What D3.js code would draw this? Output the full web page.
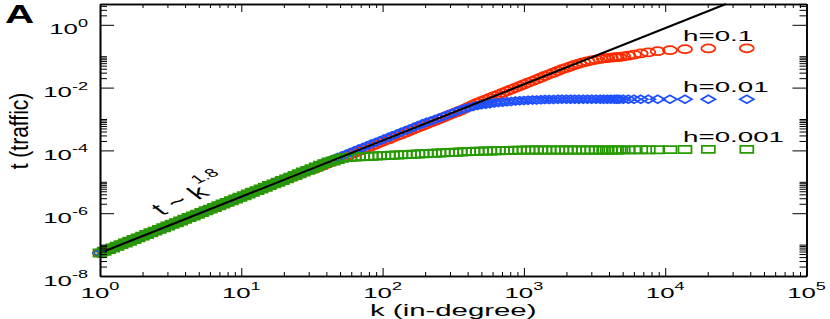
<!DOCTYPE html>
<html>
<head>
<meta charset="utf-8">
<script src="https://cdn.jsdelivr.net/npm/d3@7"></script>
<style>
  body { margin: 0; background: #fff; }
  text { font-family: "Liberation Sans", Arial, Helvetica, sans-serif; fill: #000; }
</style>
</head>
<body>
<div id="chart"></div>
<script>
// in-degree k, shared by the three runs
const kValues = [
  1, 1.07, 1.15, 1.23, 1.32, 1.41, 1.51, 1.62, 1.74, 1.86,
  2, 2.14, 2.29, 2.45, 2.63, 2.82, 3.02, 3.24, 3.47, 3.72,
  3.98, 4.27, 4.57, 4.9, 5.25, 5.62, 6.03, 6.46, 6.92, 7.41,
  7.94, 8.51, 9.12, 9.77, 10.5, 11.2, 12, 12.9, 13.8, 14.8,
  15.8, 17, 18.2, 19.5, 20.9, 22.4, 24, 25.7, 27.5, 29.5,
  31.6, 33.9, 36.3, 38.9, 41.7, 44.7, 47.9, 51.3, 55, 58.9,
  63.1, 67.6, 72.4, 77.6, 83.2, 89.1, 95.5, 102, 110, 117,
  126, 135, 145, 155, 166, 178, 191, 204, 219, 234,
  251, 269, 288, 309, 331, 355, 380, 407, 437, 468,
  501, 537, 575, 617, 661, 708, 759, 813, 871, 933,
  1000, 1070, 1150, 1230, 1320, 1410, 1510, 1620, 1740, 1860,
  2000, 2140, 2290, 2450, 2630, 2820, 3020, 3240, 3470,
  3670, 3890, 4120, 4370, 4550, 4730, 5050, 5480, 6010, 6710,
  7590, 8850, 10800, 13800, 20200, 37800
];

// traffic for k <= 29.5, where all three runs lie on top of each other
const tOverlap = [
  5.40e-8, 6.11e-8, 6.92e-8, 7.83e-8, 8.86e-8, 1.00e-7, 1.13e-7, 1.28e-7, 1.45e-7, 1.64e-7,
  1.86e-7, 2.10e-7, 2.38e-7, 2.69e-7, 3.05e-7, 3.45e-7, 3.91e-7, 4.42e-7, 5.00e-7, 5.66e-7,
  6.40e-7, 7.25e-7, 8.20e-7, 9.28e-7, 1.05e-6, 1.19e-6, 1.35e-6, 1.52e-6, 1.72e-6, 1.95e-6,
  2.21e-6, 2.50e-6, 2.82e-6, 3.20e-6, 3.62e-6, 4.09e-6, 4.63e-6, 5.24e-6, 5.93e-6, 6.71e-6,
  7.59e-6, 8.59e-6, 9.72e-6, 1.10e-5, 1.24e-5, 1.41e-5, 1.59e-5, 1.80e-5, 2.04e-5, 2.31e-5
];

// h = 0.1
const tRed = [
  2.43e-5, 2.75e-5, 3.11e-5, 3.52e-5, 3.99e-5, 4.51e-5, 5.10e-5, 5.78e-5, 6.54e-5, 7.39e-5,
  8.37e-5, 9.47e-5, 1.07e-4, 1.21e-4, 1.37e-4, 1.55e-4, 1.76e-4, 1.99e-4, 2.25e-4, 2.55e-4,
  2.88e-4, 3.26e-4, 3.69e-4, 4.18e-4, 4.72e-4, 5.35e-4, 6.05e-4, 6.85e-4, 7.75e-4, 8.77e-4,
  9.93e-4, 1.12e-3, 1.27e-3, 1.44e-3, 1.63e-3, 1.84e-3, 2.12e-3, 2.45e-3, 2.82e-3, 3.25e-3,
  3.68e-3, 4.16e-3, 4.71e-3, 5.33e-3, 6.03e-3, 6.82e-3, 7.72e-3, 8.74e-3, 9.89e-3, 1.12e-2,
  1.27e-2, 1.43e-2, 1.62e-2, 1.83e-2, 2.08e-2, 2.35e-2, 2.66e-2, 3.01e-2, 3.40e-2, 3.85e-2,
  4.27e-2, 4.77e-2, 5.28e-2, 5.81e-2, 6.35e-2, 6.88e-2, 7.35e-2, 7.79e-2, 8.20e-2,
  8.51e-2, 8.76e-2, 8.96e-2, 9.16e-2, 9.29e-2, 9.43e-2, 9.93e-2, 0.105, 0.113, 0.122,
  0.132, 0.144, 0.155, 0.167, 0.176, 0.179
];

// h = 0.01
const tBlue = [
  2.81e-5, 3.18e-5, 3.60e-5, 4.08e-5, 4.61e-5, 5.22e-5, 5.91e-5, 6.69e-5, 7.57e-5, 8.56e-5,
  9.69e-5, 1.10e-4, 1.24e-4, 1.40e-4, 1.59e-4, 1.80e-4, 2.03e-4, 2.30e-4, 2.60e-4, 2.95e-4,
  3.34e-4, 3.78e-4, 4.27e-4, 4.83e-4, 5.47e-4, 6.19e-4, 7.00e-4, 7.93e-4, 8.70e-4, 9.70e-4,
  1.08e-3, 1.21e-3, 1.37e-3, 1.53e-3, 1.72e-3, 1.92e-3, 2.11e-3, 2.31e-3, 2.50e-3, 2.67e-3,
  2.83e-3, 2.96e-3, 3.09e-3, 3.21e-3, 3.33e-3, 3.43e-3, 3.53e-3, 3.64e-3, 3.72e-3, 3.80e-3,
  3.88e-3, 3.94e-3, 4.00e-3, 4.06e-3, 4.12e-3, 4.15e-3, 4.18e-3, 4.21e-3, 4.24e-3, 4.24e-3,
  4.24e-3, 4.24e-3, 4.24e-3, 4.24e-3, 4.24e-3, 4.24e-3, 4.24e-3, 4.24e-3, 4.24e-3,
  4.25e-3, 4.25e-3, 4.25e-3, 4.25e-3, 4.25e-3, 4.25e-3, 4.25e-3, 4.25e-3, 4.25e-3, 4.25e-3,
  4.25e-3, 4.25e-3, 4.25e-3, 4.25e-3, 4.25e-3, 4.25e-3
];

// h = 0.001
const tGreen = [
  2.62e-5, 2.96e-5, 3.35e-5, 3.79e-5, 4.29e-5, 4.60e-5, 5.13e-5, 5.60e-5, 5.90e-5, 6.07e-5,
  6.16e-5, 6.25e-5, 6.35e-5, 6.44e-5, 6.54e-5, 6.63e-5, 6.73e-5, 6.83e-5, 6.93e-5, 7.03e-5,
  7.14e-5, 7.24e-5, 7.35e-5, 7.46e-5, 7.57e-5, 7.68e-5, 7.79e-5, 7.91e-5, 8.03e-5, 8.14e-5,
  8.26e-5, 8.39e-5, 8.51e-5, 8.64e-5, 8.76e-5, 8.89e-5, 9.03e-5, 9.16e-5, 9.30e-5, 9.43e-5,
  9.50e-5, 9.57e-5, 9.64e-5, 9.71e-5, 9.78e-5, 9.85e-5, 9.93e-5, 1.00e-4, 1.01e-4, 1.02e-4,
  1.02e-4, 1.03e-4, 1.03e-4, 1.03e-4, 1.03e-4, 1.03e-4, 1.03e-4, 1.03e-4, 1.03e-4, 1.03e-4,
  1.03e-4, 1.03e-4, 1.03e-4, 1.03e-4, 1.03e-4, 1.03e-4, 1.03e-4, 1.03e-4, 1.03e-4,
  1.03e-4, 1.03e-4, 1.03e-4, 1.03e-4, 1.03e-4, 1.04e-4, 1.04e-4, 1.04e-4, 1.04e-4, 1.05e-4,
  1.05e-4, 1.05e-4, 1.06e-4, 1.07e-4, 1.08e-4, 1.08e-4
];

const seriesNames = ["h=0.1", "h=0.01", "h=0.001"];

// fitted power law t ~ k^1.8, two end points
const fitK = [1.085, 26900];
const fitT = [6.25e-8, 4.6];

const xDomain = [1, 1e5];
const yDomain = [1e-8, 4.6];
const xTickExps = [0, 1, 2, 3, 4, 5];
const yTickExps = [-8, -6, -4, -2, 0];


class TrafficPlot {

  constructor(element, series) {
    this.element = element;

    this.width = 830;
    this.height = 319;
    this.margin = {top: 4, right: 23.5, bottom: 43, left: 100};
    this.stretch = 1.72;   // the original figure was widened, text included

    this.series = series;

    this.draw();
  }


  draw() {
    this.svg = d3.select(this.element)
      .append("svg")
      .attr("width", this.width)
      .attr("height", this.height);

    this._createScales();
    this._drawSeries();
    this._drawFit();
    this._drawAxes();
    this._drawLabels();
  }


  _createScales() {
    const m = this.margin;

    this.x = d3.scaleLog()
      .domain(xDomain)
      .range([m.left, this.width - m.right]);

    this.y = d3.scaleLog()
      .domain(yDomain)
      .range([this.height - m.bottom, m.top]);
  }


  _drawSeries() {
    const shapes = {
      circle: "M-7,0A7,4 0 1,0 7,0A7,4 0 1,0 -7,0Z",
      diamond: "M-7,0L0,-4L7,0L0,4Z",
      square: "M-6.5,-3.6H6.5V3.6H-6.5Z"
    };

    this.series.forEach(s => {
      const points = s.k.map((k, i) => [k, s.t[i]]);

      this.svg.append("g")
        .selectAll("path")
        .data(points)
        .join("path")
          .attr("d", shapes[s.shape])
          .attr("transform", d => `translate(${this.x(d[0])},${this.y(d[1])})`)
          .attr("fill", "none")
          .attr("stroke", s.color)
          .attr("stroke-width", 1.75);
    });
  }


  _drawFit() {
    const line = d3.line()
      .x(d => this.x(d[0]))
      .y(d => this.y(d[1]));

    this.svg.append("path")
      .datum(fitK.map((k, i) => [k, fitT[i]]))
      .attr("d", line)
      .attr("fill", "none")
      .attr("stroke", "#000")
      .attr("stroke-width", 2);
  }


  _drawAxes() {
    const m = this.margin;
    const bottom = this.height - m.bottom;
    const right = this.width - m.right;

    const xMajor = xTickExps.map(e => 10 ** e);
    const yMajor = yTickExps.map(e => 10 ** e);
    const xMinor = [];
    xTickExps.slice(0, -1).forEach(e => d3.range(2, 10).forEach(n => xMinor.push(n * 10 ** e)));
    const yMinor = [];
    yTickExps.forEach(e => d3.range(2, 11).forEach(n => {
      if (n * 10 ** e <= yDomain[1]) yMinor.push(n * 10 ** e);
    }));

    const addAxis = (axis, scale, transform, major, minor, big, small) => {
      const g = this.svg.append("g").attr("transform", transform);
      g.append("g")
        .call(axis(scale).tickValues(minor).tickSize(-small).tickSizeOuter(0).tickFormat(""));
      g.append("g")
        .call(axis(scale).tickValues(major).tickSize(-big).tickSizeOuter(0).tickFormat(""));
      g.selectAll(".domain").attr("stroke", "#000").attr("stroke-width", 1.6);
      g.selectAll(".tick line").attr("stroke", "#000").attr("stroke-width", 1);
    };

    addAxis(d3.axisBottom, this.x, `translate(0,${bottom})`, xMajor, xMinor, 8, 4);
    addAxis(d3.axisTop, this.x, `translate(0,${m.top})`, xMajor, xMinor, 8, 4);
    addAxis(d3.axisLeft, this.y, `translate(${m.left},0)`, yMajor, yMinor, 14, 7);
    addAxis(d3.axisRight, this.y, `translate(${right},0)`, yMajor, yMinor, 14, 7);

    const sx = this.stretch;

    this.svg.append("g")
      .selectAll("text")
      .data(xTickExps)
      .join("text")
        .attr("transform", e => `translate(${this.x(10 ** e)},${bottom + 21.5}) scale(${sx},1)`)
        .attr("text-anchor", "middle")
        .attr("font-size", 15)
        .call(t => t.append("tspan").text("10"))
        .call(t => t.append("tspan").attr("dy", -7.5).attr("font-size", 10.5).text(e => e));

    this.svg.append("g")
      .selectAll("text")
      .data(yTickExps)
      .join("text")
        .attr("transform", e => `translate(${m.left - 12},${this.y(10 ** e) + 9.5}) scale(${sx},1)`)
        .attr("text-anchor", "end")
        .attr("font-size", 15)
        .call(t => t.append("tspan").text("10"))
        .call(t => t.append("tspan").attr("dy", -7.5).attr("font-size", 10.5).text(e => e));
  }


  _drawLabels() {
    const m = this.margin;
    const sx = this.stretch;

    this.svg.append("text")
      .attr("transform", `translate(5,23) scale(1.62,1)`)
      .attr("font-size", 25)
      .attr("font-weight", "bold")
      .text("A");

    this.svg.append("text")
      .attr("transform", `translate(${(m.left + this.width - m.right) / 2},316) scale(1.78,1)`)
      .attr("text-anchor", "middle")
      .attr("font-size", 16.5)
      .text("k (in-degree)");

    this.svg.append("text")
      .attr("transform", `translate(27.5,131) scale(1.25,1) rotate(-90)`)
      .attr("text-anchor", "middle")
      .attr("font-size", 21)
      .text("t (traffic)");

    this.svg.append("text")
      .attr("transform", `translate(162,216) scale(${sx},1) rotate(-37)`)
      .attr("font-size", 18.5)
      .call(t => t.append("tspan").text("t ~ k"))
      .call(t => t.append("tspan").attr("dy", -13).attr("font-size", 12).text("1.8"));

    // run labels sit just above the last point of each run
    this.svg.append("g")
      .selectAll("text")
      .data(this.series)
      .join("text")
        .attr("transform", s => `translate(683,${this.y(s.t[s.t.length - 1]) - 7.6}) scale(1.85,1)`)
        .attr("font-size", 15)
        .text(s => s.name);
  }

}


const series = [
  {name: seriesNames[0], k: kValues, t: tOverlap.concat(tRed), color: "#ff2a00", shape: "circle"},
  {name: seriesNames[1], k: kValues, t: tOverlap.concat(tBlue), color: "#1f50ff", shape: "diamond"},
  {name: seriesNames[2], k: kValues, t: tOverlap.concat(tGreen), color: "#269a00", shape: "square"}
];

new TrafficPlot("#chart", series);
</script>
</body>
</html>
